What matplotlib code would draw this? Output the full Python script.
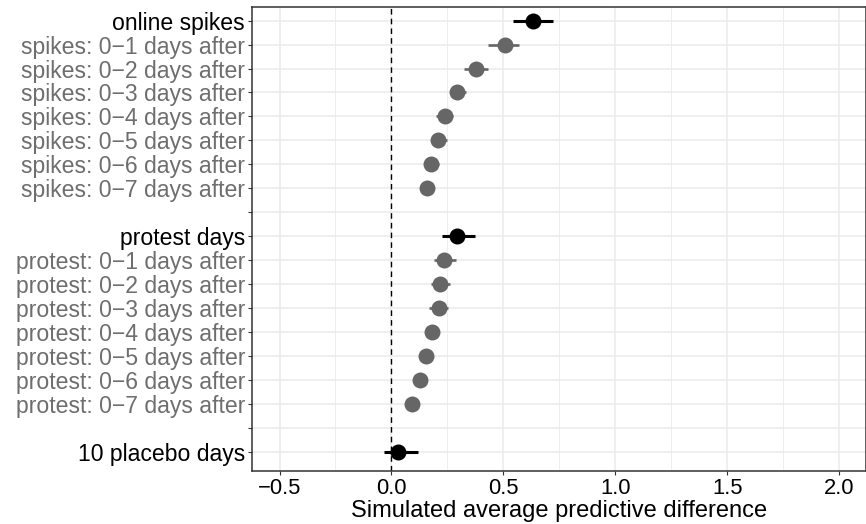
import matplotlib
matplotlib.use("Agg")
import matplotlib.pyplot as plt
import numpy as np

plt.rcParams['font.family'] = ['Liberation Sans', 'DejaVu Sans']

# rows top to bottom, "" = empty spacer row
labels = ["online spikes",
          "spikes: 0\u22121 days after", "spikes: 0\u22122 days after",
          "spikes: 0\u22123 days after", "spikes: 0\u22124 days after",
          "spikes: 0\u22125 days after", "spikes: 0\u22126 days after",
          "spikes: 0\u22127 days after",
          "",
          "protest days",
          "protest: 0\u22121 days after", "protest: 0\u22122 days after",
          "protest: 0\u22123 days after", "protest: 0\u22124 days after",
          "protest: 0\u22125 days after", "protest: 0\u22126 days after",
          "protest: 0\u22127 days after",
          "",
          "10 placebo days"]
estimate = [0.631, 0.507, 0.379, 0.294, 0.239, 0.209, 0.176, 0.157, np.nan,
            0.294, 0.236, 0.218, 0.211, 0.181, 0.153, 0.127, 0.093, np.nan,
            0.031]
lower = [0.543, 0.433, 0.324, 0.261, 0.199, 0.175, 0.145, 0.135, np.nan,
         0.227, 0.190, 0.175, 0.168, 0.160, 0.135, 0.110, 0.078, np.nan,
         -0.035]
upper = [0.720, 0.571, 0.431, 0.333, 0.273, 0.249, 0.211, 0.180, np.nan,
         0.372, 0.287, 0.261, 0.252, 0.202, 0.172, 0.145, 0.110, np.nan,
         0.119]
headline = [True, False, False, False, False, False, False, False, False,
            True, False, False, False, False, False, False, False, False,
            True]

grey = '#666666'
fig = plt.figure(figsize=(8.66, 5.24), dpi=100)
ax = fig.add_axes([252/866, 1 - 471/524, 1 - 252/866, (471 - 6.7)/524])

ypos = np.arange(len(labels))
for y, est, lo, hi, head in zip(ypos, estimate, lower, upper, headline):
    if np.isnan(est):
        continue
    col = 'black' if head else grey
    ax.plot([lo, hi], [y, y], color=col, lw=2.2 if head else 1.9,
            solid_capstyle='butt', zorder=3)
    ax.plot(est, y, 'o', color=col, ms=11.5, mec='none', zorder=4)

ax.axvline(0, color='black', lw=1.0, ls=(0, (4, 3)), zorder=2)

ax.set_xlim(-0.623, 2.12)
ax.set_ylim(18.8, -0.58)
ax.set_xticks([-0.5, 0.0, 0.5, 1.0, 1.5, 2.0])
ax.set_xticklabels(["\u22120.5", "0.0", "0.5", "1.0", "1.5", "2.0"])
ax.set_xticks(np.arange(-0.25, 2.2, 0.5), minor=True)
ax.set_yticks(ypos)
ax.set_yticklabels(labels, fontsize=16.6)
for lab, head in zip(ax.get_yticklabels(), headline):
    lab.set_color('black' if head else '#6E6E6E')

ax.grid(which='major', color='#EBEBEB', lw=1.1, zorder=0)
ax.grid(which='minor', axis='x', color='#EBEBEB', lw=0.55, zorder=0)
ax.set_axisbelow(True)
ax.tick_params(which='major', length=3, width=0.8, color='#333333', pad=2)
ax.tick_params(axis='x', labelcolor='black', labelsize=15.8)
ax.tick_params(which='minor', length=0)
for s in ax.spines.values():
    s.set_color('#333333')
    s.set_linewidth(1.1)

ax.set_xlabel('Simulated average predictive difference', fontsize=17,
              labelpad=1)

fig.savefig('out.png', dpi=100)
